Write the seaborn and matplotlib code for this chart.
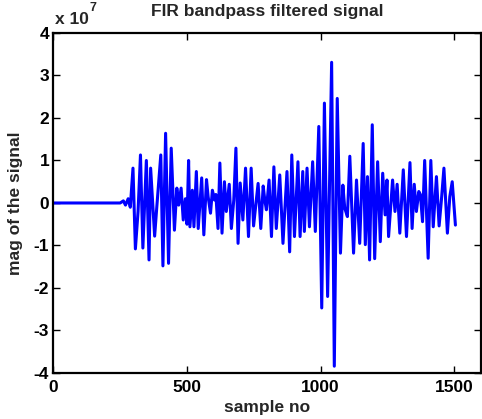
import matplotlib
matplotlib.use("Agg")
import matplotlib.pyplot as plt
import pandas as pd
import seaborn as sns

# peaks / troughs (values in units of 1e7)
samples = [1, 250, 262, 270, 280, 288,
           298, 307, 317, 326, 335, 348, 358, 364, 379, 387,
           402, 410, 420, 431, 441, 453, 462, 469, 478, 486,
           494, 500, 506, 511, 520, 526, 535, 542, 555, 563,
           573, 579, 588, 595, 603, 608, 616, 623, 631, 640,
           647, 658, 666, 675, 683, 691, 699, 709, 719, 730,
           740, 749, 766, 776, 785, 791, 797, 807, 816, 825,
           834, 847, 859, 874, 884, 892, 902, 915, 923, 933,
           939, 949, 958, 970, 980, 993, 1004, 1014, 1026, 1041,
           1051, 1062, 1074, 1083, 1090, 1100, 1109, 1123, 1134, 1146,
           1159, 1167, 1175, 1183, 1193, 1202, 1213, 1223, 1232, 1241,
           1248, 1254, 1269, 1278, 1286, 1296, 1309, 1321, 1334, 1342,
           1350, 1358, 1367, 1373, 1381, 1389, 1402, 1412, 1421, 1433,
           1443, 1452, 1461, 1474, 1483, 1492, 1504]
mag = [0, 0, 0.05, -0.05, 0.1, -0.1,
       0.82, -1.08, -0.2, 1.13, -1.06, 1.0, -1.34, 0.82, -0.78, -0.1,
       1.13, -1.48, 1.64, -1.42, 1.29, -0.64, 0.35, -0.05, 0.35, -0.4,
       0.1, -0.5, 1.0, -0.56, 0.3, -0.56, 0.74, -0.6, 0.59, -0.75,
       0.55, 0.15, -0.24, 0.3, 0.07, 0.2, -0.6, 0.94, -0.71, 0.5,
       -0.2, 0.44, -0.6, 0.07, 1.29, -0.95, 0.47, -0.4, 0.82, -0.79,
       0.82, -0.54, 0.46, -0.6, 0.4, 0.07, -0.16, 0.54, -0.79, 0.85,
       -0.6, 0.66, -0.95, 0.74, -1.15, 1.13, -0.79, 0.97, -0.79, 0.74,
       -0.67, 0.82, -0.56, 0.97, -0.67, 1.8, -2.47, 2.35, -2.2, 3.31,
       -3.84, 2.46, -1.18, 0.42, -0.12, -0.32, 1.1, -1.18, 0.54, -0.95,
       1.4, -0.98, 0.62, -1.34, 1.84, -1.31, 0.97, -0.91, 0.7, -0.28,
       0.54, -0.79, 0.54, -0.2, 0.44, -0.71, 0.78, -0.79, 0.95, -0.6,
       0.44, -0.2, 0.27, 0.2, -0.44, 1.0, -1.3, 1.0, -0.56, 0.62,
       -0.54, 0.1, 0.82, -0.71, 0.15, 0.5, -0.52]
xticks = [0, 500, 1000, 1500]
yticks = [-4, -3, -2, -1, 0, 1, 2, 3, 4]

df = pd.DataFrame({"sample": samples, "mag": mag})

sns.set_style("ticks")
plt.rcParams["font.family"] = ["Liberation Sans", "DejaVu Sans"]
plt.rcParams["font.weight"] = "bold"
plt.rcParams["font.size"] = 12
plt.rcParams["axes.unicode_minus"] = False

fig = plt.figure(figsize=(4.82, 4.19), dpi=100)
ax = fig.add_axes([0.1106, 0.1098, 0.8875, 0.8115])
sns.lineplot(data=df, x="sample", y="mag", color="blue", lw=2.2, sort=False,
             estimator=None, ax=ax)
ax.lines[0].set_solid_joinstyle("round")

ax.set_xlim(0, 1600)
ax.set_ylim(-4, 4)
ax.set_xticks(xticks)
ax.set_yticks(yticks)
ax.tick_params(direction="in", length=5, width=1, top=True, right=True,
               labelsize=12.5, pad=3, colors="black")
ax.tick_params(axis="x", pad=5)
for s in ax.spines.values():
    s.set_visible(True)
    s.set_linewidth(1.6)
    s.set_color("black")

ax.set_xlabel("sample no", fontweight="bold", fontsize=12.5, labelpad=4)
ax.set_ylabel("mag of the signal", fontweight="bold", fontsize=12.5, labelpad=8)
ax.set_title("FIR bandpass filtered signal", fontweight="bold", fontsize=12.5, pad=12)
ax.text(0.005, 1.018, "x 10", transform=ax.transAxes, fontweight="bold",
        fontsize=12.5, ha="left", va="bottom")
ax.text(0.085, 1.055, "7", transform=ax.transAxes, fontsize=9,
        ha="left", va="bottom")

fig.savefig("out.png", dpi=100)
